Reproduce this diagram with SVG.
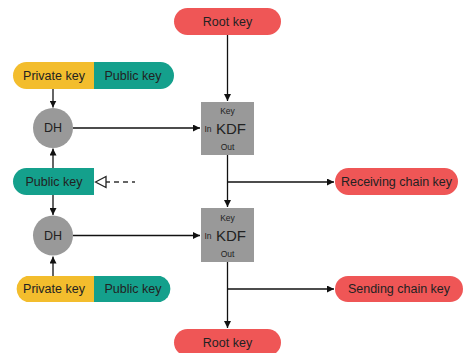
<svg xmlns="http://www.w3.org/2000/svg" width="465" height="353" viewBox="0 0 465 353">
  <style>
    text { font-family: "Liberation Sans", Arial, sans-serif; fill: #222; text-anchor: middle; dominant-baseline: central; }
    .lbl { font-size: 12.5px; }
    .small { font-size: 8.5px; }
    .kdf-t { font-size: 15px; }
    .red { fill: #ef5656; }
    .yel { fill: #f3bd2d; }
    .teal { fill: #14a08c; }
    .gray { fill: #999999; }
    .wire { stroke: #111; stroke-width: 1.3; fill: none; }
    .dash { stroke: #333; stroke-width: 1.3; fill: none; stroke-dasharray: 5 4; }
  </style>
  <defs>
    <marker id="arr" viewBox="0 0 10 10" refX="10" refY="5" markerWidth="7" markerHeight="7" markerUnits="userSpaceOnUse" orient="auto">
      <path d="M0,0 L10,5 L0,10 z" fill="#111"/>
    </marker>
  </defs>

  <!-- connectors -->
  <g id="connectors">
    <path class="wire" d="M227.5,35 V101" marker-end="url(#arr)"/>
    <path class="wire" d="M73,128 H200" marker-end="url(#arr)"/>
    <path class="wire" d="M53,89 V107.5" marker-end="url(#arr)"/>
    <path class="wire" d="M53,168 V148.5" marker-end="url(#arr)"/>
    <path class="wire" d="M227.5,155 V207" marker-end="url(#arr)"/>
    <path class="wire" d="M227.5,182 H334" marker-end="url(#arr)"/>
    <path class="wire" d="M53,195 V215" marker-end="url(#arr)"/>
    <path class="wire" d="M53,276 V256.5" marker-end="url(#arr)"/>
    <path class="wire" d="M73,235.5 H200" marker-end="url(#arr)"/>
    <path class="wire" d="M227.5,262 V328" marker-end="url(#arr)"/>
    <path class="wire" d="M227.5,289 H334" marker-end="url(#arr)"/>
    <path class="dash" d="M105,182 H135"/>
    <path d="M95.5,182 L106,176.5 V187.5 z" fill="#fff" stroke="#222" stroke-width="1.3"/>
  </g>

  <g id="root-key-top">
    <rect class="red" x="174" y="8" width="107" height="27" rx="13.5"/>
    <text class="lbl" x="227.5" y="21.5">Root key</text>
  </g>

  <g id="keypair-top">
    <path class="yel" d="M94,62 H26.5 A13.5,13.5 0 0 0 26.5,89 H94 z"/>
    <path class="teal" d="M94,62 H160.5 A13.5,13.5 0 0 1 160.5,89 H94 z"/>
    <text class="lbl" x="54" y="75.5">Private key</text>
    <text class="lbl" x="133" y="75.5">Public key</text>
  </g>

  <g id="dh-top">
    <circle class="gray" cx="53" cy="128" r="20"/>
    <text class="lbl" x="53" y="128">DH</text>
  </g>

  <g id="kdf-top">
    <rect class="gray" x="201" y="102" width="53" height="53"/>
    <text class="small" x="227.5" y="111">Key</text>
    <text class="kdf-t" x="231" y="128.5">KDF</text>
    <text class="small" x="208" y="128.5">In</text>
    <text class="small" x="227.5" y="147">Out</text>
  </g>

  <g id="public-key-mid">
    <path class="teal" d="M94,168 H26.5 A13.5,13.5 0 0 0 26.5,195 H94 z"/>
    <text class="lbl" x="54" y="181.5">Public key</text>
  </g>

  <g id="receiving-chain-key">
    <rect class="red" x="335" y="168" width="123" height="27" rx="13.5"/>
    <text class="lbl" x="396.5" y="181.5">Receiving chain key</text>
  </g>

  <g id="dh-bottom">
    <circle class="gray" cx="53" cy="235.5" r="20"/>
    <text class="lbl" x="53" y="235.5">DH</text>
  </g>

  <g id="kdf-bottom">
    <rect class="gray" x="201" y="208" width="53" height="54"/>
    <text class="small" x="227.5" y="217.5">Key</text>
    <text class="kdf-t" x="231" y="235.5">KDF</text>
    <text class="small" x="208" y="235.5">In</text>
    <text class="small" x="227.5" y="253.5">Out</text>
  </g>

  <g id="keypair-bottom">
    <path class="yel" d="M94,276 H26.5 A13.5,13.5 0 0 0 26.5,302 H94 z"/>
    <path class="teal" d="M94,276 H160.5 A13.5,13.5 0 0 1 160.5,302 H94 z"/>
    <text class="lbl" x="54" y="289">Private key</text>
    <text class="lbl" x="133" y="289">Public key</text>
  </g>

  <g id="sending-chain-key">
    <rect class="red" x="335" y="276" width="128" height="26" rx="13"/>
    <text class="lbl" x="399" y="289">Sending chain key</text>
  </g>

  <g id="root-key-bottom">
    <rect class="red" x="174" y="329" width="107" height="27" rx="13.5"/>
    <text class="lbl" x="227.5" y="342.5">Root key</text>
  </g>
</svg>
